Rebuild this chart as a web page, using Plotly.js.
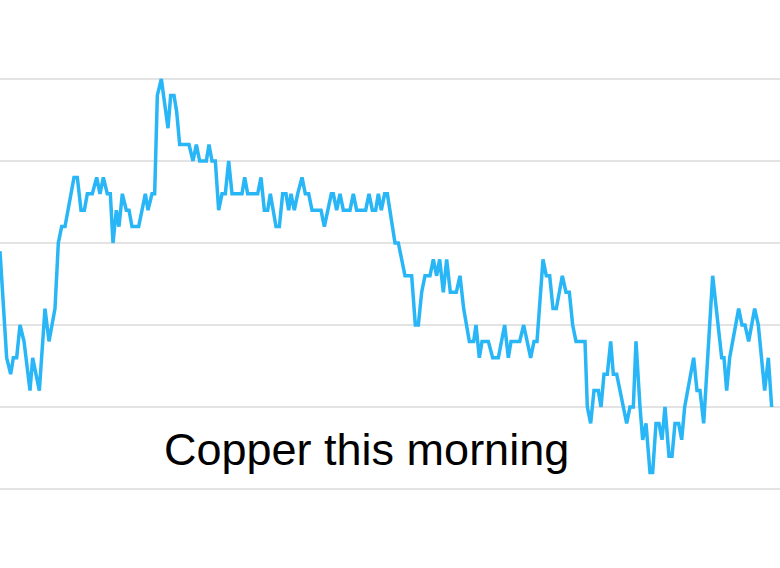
<!DOCTYPE html>
<html>
<head>
<meta charset="utf-8">
<script src="https://cdn.plot.ly/plotly-3.0.1.min.js"></script>
<style>html,body{margin:0;padding:0;background:#fff;}#chart{width:780px;height:568px;}</style>
</head>
<body>
<div id="chart"></div>
<script>
// Minutes after the open (x) and copper price level (y)
const minutes = [
  0, 2.0, 3.2, 4.0, 5.0, 6.0, 7.2, 9.0, 9.8, 11.8,
  13.5, 14.7, 16.5, 17.5, 18.5, 19.5, 22.2, 23.2, 24.3, 25.3,
  26.2, 27.7, 29.0, 30.0, 31.0, 32.2, 33.1, 33.9, 34.9, 35.7,
  36.7, 37.9, 38.7, 39.6, 41.6, 43.6, 44.4, 45.6, 46.4, 47.2,
  48.4, 50.4, 51.2, 52.2, 53.0, 53.9, 56.7, 57.9, 58.9, 59.9,
  61.9, 62.7, 63.6, 64.6, 65.6, 66.6, 67.6, 68.6, 69.6, 72.6,
  73.4, 74.3, 77.3, 78.3, 79.3, 80.3, 81.1, 82.0, 82.8, 83.8,
  84.8, 85.8, 86.6, 87.3, 88.3, 89.3, 90.6, 91.6, 92.6, 93.6,
  96.3, 97.3, 99.4, 100.0, 101.0, 102.0, 103.0, 105.0, 106.0, 107.0,
  109.7, 110.7, 111.7, 112.7, 113.5, 114.4, 115.4, 116.2, 118.5, 119.5,
  121.5, 123.5, 124.6, 125.5, 126.5, 127.5, 129.0, 130.0, 131.0, 131.9,
  133.0, 134.0, 135.1, 136.9, 138.0, 139.1, 140.8, 142.1, 142.8, 143.8,
  144.6, 146.5, 147.8, 149.5, 151.4, 152.5, 153.3, 155.9, 157.1, 159.2,
  160.2, 161.1, 162.9, 163.9, 164.9, 165.9, 166.9, 168.7, 169.8, 170.8,
  171.8, 172.8, 175.5, 176.2, 177.2, 178.2, 179.5, 180.3, 181.2, 182.2,
  183.2, 184.0, 185.0, 188.0, 189.0, 190.0, 190.8, 192.0, 192.8, 193.8,
  195.0, 195.8, 196.8, 197.7, 198.6, 199.5, 200.7, 201.6, 202.5, 203.6,
  204.5, 205.4, 208.1, 209.1, 210.0, 211.1, 213.8, 216.5, 217.2, 218.0,
  218.9, 221.6, 222.6, 223.5, 224.6, 226.4, 227.5, 229.4, 230.5, 231.5
];
const price = [
  19.5, 13, 12, 13, 13, 15, 14, 11, 13, 11,
  16, 14, 16, 20, 21, 21, 24, 24, 22, 22,
  23, 23, 24, 23, 24, 23, 23, 20, 22, 21,
  23, 22, 22, 21, 21, 23, 22, 23, 23, 29,
  30, 27, 29, 29, 28, 26, 26, 25, 26, 25,
  25, 26, 25, 25, 22, 23, 23, 25, 23, 23,
  24, 23, 23, 24, 22, 22, 23, 22, 21, 21,
  23, 23, 22, 23, 22, 23, 24, 23, 23, 22,
  22, 21, 23, 23, 22, 23, 22, 22, 23, 22,
  22, 23, 22, 22, 23, 22, 23, 23, 20, 20,
  18, 18, 15, 15, 17, 18, 18, 19, 18, 19,
  17, 19, 17, 17, 18, 16, 14, 14, 15, 13,
  14, 14, 13, 13, 15, 13, 14, 14, 15, 13,
  14, 14, 19, 18, 18, 16, 16, 18, 17, 17,
  15, 14, 14, 10, 9, 11, 11, 10, 12, 12,
  14, 12, 12, 9, 10, 10, 14, 10, 8, 9,
  6, 6, 9, 9, 8, 10, 7, 7, 9, 9,
  8, 10, 13, 11, 11, 9, 18, 13, 13, 11,
  13, 16, 15, 15, 14, 16, 15, 11, 13, 10
];
const gridLevels = [5, 10, 15, 20, 25, 30];
const titleText = "Copper this morning";

Plotly.newPlot("chart", [{
  x: minutes,
  y: price,
  type: "scatter",
  mode: "lines",
  line: {color: "#29b6f6", width: 3.5},
  hoverinfo: "skip"
}], {
  width: 780, height: 568,
  margin: {l: 0, r: 0, t: 0, b: 0, pad: 0},
  paper_bgcolor: "#ffffff",
  plot_bgcolor: "#ffffff",
  showlegend: false,
  xaxis: {range: [0, 234], showgrid: false, zeroline: false, showticklabels: false, showline: false, ticks: ""},
  yaxis: {range: [0.183, 34.817], tickvals: gridLevels, showgrid: true, gridcolor: "#e3e3e3", gridwidth: 1.5,
          zeroline: false, showticklabels: false, showline: false, ticks: ""},
  annotations: [{
    text: titleText, xref: "paper", yref: "paper", x: 0.47, y: 0.208,
    xanchor: "center", yanchor: "middle", showarrow: false,
    font: {family: "Liberation Sans, Arial, sans-serif", size: 45, color: "#000000"}
  }]
}, {displayModeBar: false, staticPlot: true});
</script>
</body>
</html>
